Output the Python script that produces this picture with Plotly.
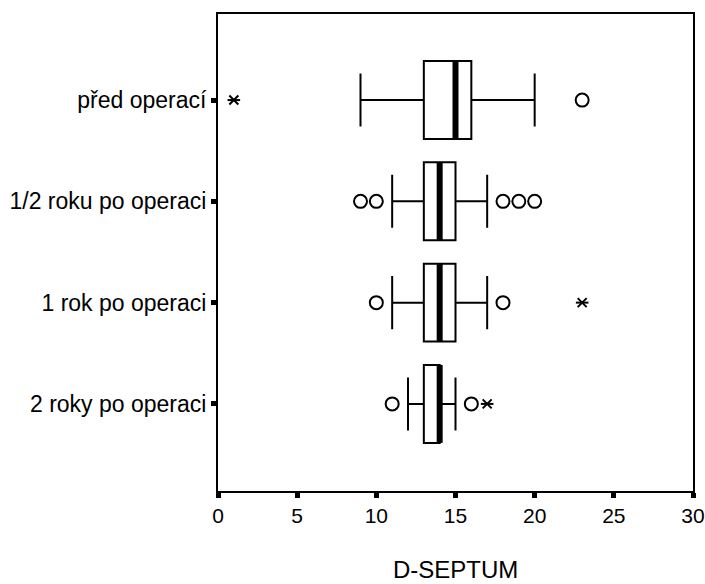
import plotly.graph_objects as go

# D-SEPTUM by time point
groups = ["před operací", "1/2 roku po operaci", "1 rok po operaci", "2 roky po operaci"]
positions = [0, 1, 2, 3]

q1 = [13, 13, 13, 13]
median = [15, 14, 14, 14]
q3 = [16, 15, 15, 14]
lower_whisker = [9, 11, 11, 12]
upper_whisker = [20, 17, 17, 15]

# outliers (circles) and extreme values (stars)
outlier_x = [23, 9, 10, 18, 19, 20, 10, 18, 11, 16]
outlier_grp = [0, 1, 1, 1, 1, 1, 2, 2, 3, 3]
extreme_x = [1, 23, 17]
extreme_grp = [0, 2, 3]

x_ticks = [0, 5, 10, 15, 20, 25, 30]
x_title = "D-SEPTUM"

BOX_W = 0.77
FONT = "Liberation Sans, Arial, sans-serif"

fig = go.Figure()

fig.add_trace(go.Box(
    orientation="h",
    y=positions,
    q1=q1, median=median, q3=q3,
    lowerfence=lower_whisker, upperfence=upper_whisker,
    width=BOX_W, whiskerwidth=0.68,
    fillcolor="white",
    line=dict(color="black", width=2),
    boxpoints=False,
    hoverinfo="skip",
    showlegend=False,
))

# thick median bars
mx, my = [], []
for p, m in zip(positions, median):
    mx += [m, m, None]
    my += [p - BOX_W / 2, p + BOX_W / 2, None]
fig.add_trace(go.Scatter(
    x=mx, y=my, mode="lines",
    line=dict(color="black", width=6),
    hoverinfo="skip", showlegend=False,
))

fig.add_trace(go.Scatter(
    x=outlier_x, y=outlier_grp, mode="markers",
    marker=dict(symbol="circle-open", size=13, color="black",
                line=dict(color="black", width=2)),
    hoverinfo="skip", showlegend=False,
))

for sym in ["x-thin-open", "line-ew-open"]:
    fig.add_trace(go.Scatter(
        x=extreme_x, y=extreme_grp, mode="markers",
        marker=dict(symbol=sym, size=9, color="black",
                    line=dict(color="black", width=2)),
        hoverinfo="skip", showlegend=False,
    ))

fig.update_layout(
    width=705, height=584,
    margin=dict(l=218, r=12, t=14, b=93),
    paper_bgcolor="white", plot_bgcolor="white",
    font=dict(family=FONT, color="black"),
    showlegend=False,
    annotations=[dict(
        text=x_title, xref="paper", yref="paper",
        x=0.5, y=-0.164, xanchor="center", yanchor="middle",
        showarrow=False, font=dict(size=24),
    )],
)

fig.update_xaxes(
    range=[0, 30], tickvals=x_ticks,
    ticks="outside", ticklen=5, tickwidth=5, tickcolor="black",
    tickfont=dict(size=21), automargin=False,
    showgrid=False, zeroline=False,
    showline=True, linecolor="black", linewidth=2, mirror=True,
)
fig.update_yaxes(
    range=[3.86, -0.85], tickvals=positions, ticktext=groups,
    ticks="outside", ticklen=5, tickwidth=5, tickcolor="black",
    tickfont=dict(size=23), automargin=False,
    showgrid=False, zeroline=False,
    showline=True, linecolor="black", linewidth=2, mirror=True,
)

fig.write_html("out.html")
